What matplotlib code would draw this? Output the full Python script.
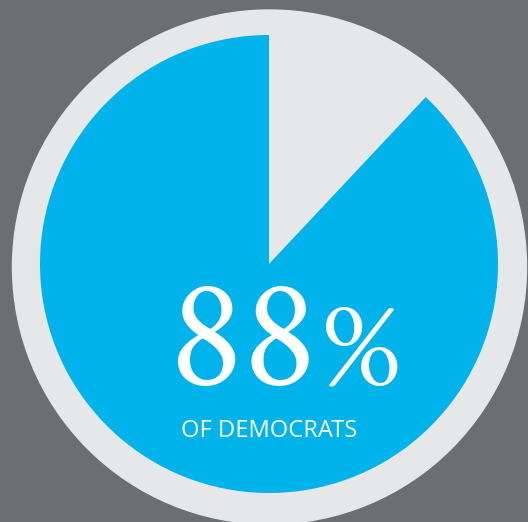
import matplotlib
matplotlib.use("Agg")
import matplotlib.pyplot as plt
from matplotlib.patches import Circle
from matplotlib import font_manager
from matplotlib.font_manager import FontProperties

# data
shares = [12, 88]          # other, democrats
share_colors = ['#e6e7e8', '#00b3eb']
big_label = '88'
label = 'OF DEMOCRATS'


def font_file(*files):
    paths = {f.fname.split('/')[-1]: f.fname for f in font_manager.fontManager.ttflist}
    for fn in files:
        if fn in paths:
            return paths[fn]
    return None


serif_path = font_file('CrimsonText-Regular.ttf', 'LiberationSerif-Regular.ttf')
sans_path = font_file('OpenSans-Regular.ttf', 'OpenSans[wdth,wght].ttf')

W, H = 528, 522
fig = plt.figure(figsize=(W / 100, H / 100), dpi=100)
fig.patch.set_facecolor('#6d6e72')
ax = fig.add_axes([0, 0, 1, 1])
ax.set_facecolor('#6d6e72')

# outer light ring
ax.add_patch(Circle((269.5, H - 267), 257, color='#e6e7e8', zorder=0))

ax.pie(shares, colors=share_colors, startangle=90, counterclock=False,
       radius=229, center=(269, H - 264), frame=True,
       wedgeprops=dict(linewidth=0))

ax.set_xlim(0, W)
ax.set_ylim(0, H)
ax.set_aspect('equal')
ax.axis('off')

big = FontProperties(fname=serif_path, size=112) if serif_path else FontProperties(family='serif', size=112)
pct = FontProperties(fname=serif_path, size=90) if serif_path else FontProperties(family='serif', size=90)
small = FontProperties(fname=sans_path, size=17) if sans_path else FontProperties(family='Open Sans', size=17)

ax.text(317, H - 386, big_label, ha='right', va='baseline', color='white', fontproperties=big)
ax.text(320, H - 386, '%', ha='left', va='baseline', color='white', fontproperties=pct)
ax.text(269, H - 437, label, ha='center', va='baseline', color='white', fontproperties=small)

fig.savefig('out.png', dpi=100, facecolor=fig.get_facecolor())
